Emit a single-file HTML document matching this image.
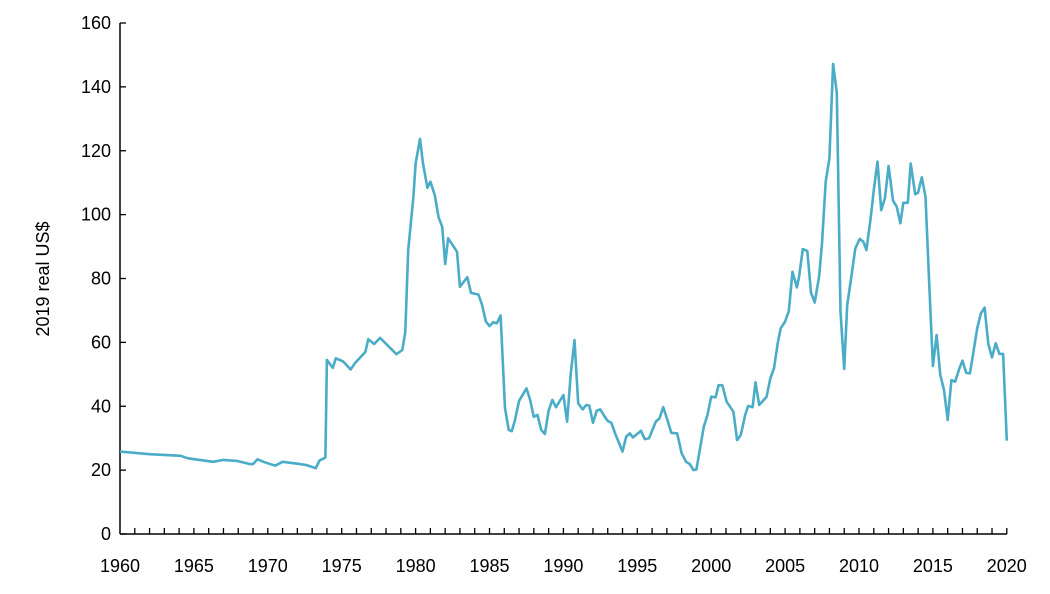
<!DOCTYPE html>
<html><head><meta charset="utf-8"><style>
html,body{margin:0;padding:0;background:#fff}
svg text{font-family:"Liberation Sans",Arial,sans-serif;fill:#000}
</style></head><body>
<svg id="chart" width="1050" height="589" viewBox="0 0 1050 589" xmlns="http://www.w3.org/2000/svg">
<g id="axes"></g>
<path id="line" fill="none" stroke="#4aacc6" stroke-width="2.6" stroke-linejoin="round"></path>
<text transform="translate(49,279) rotate(-90)" text-anchor="middle" font-size="18">2019 real US$</text>
</svg>
<script>
const years = [1960,1962,1964.1,1964.6,1966.3,1967,1967.9,1968.8,1969,1969.3,1969.7,1970.5,1971,1972.2,1972.6,1973.25,1973.5,1973.8,1973.9,1974.0,1974.4,1974.6,1975.1,1975.6,1975.9,1976.3,1976.6,1976.8,1977.2,1977.6,1978.7,1979.1,1979.3,1979.5,1979.85,1980.0,1980.3,1980.5,1980.8,1981.0,1981.3,1981.55,1981.8,1982.0,1982.2,1982.8,1983.0,1983.5,1983.75,1984.25,1984.5,1984.75,1985.0,1985.25,1985.5,1985.75,1986.05,1986.3,1986.5,1986.7,1987.0,1987.5,1987.75,1988.0,1988.25,1988.5,1988.75,1989.0,1989.25,1989.5,1990.0,1990.25,1990.5,1990.75,1991.0,1991.3,1991.55,1991.75,1992.0,1992.25,1992.5,1992.8,1993.0,1993.25,1993.5,1994.0,1994.25,1994.5,1994.7,1995.25,1995.5,1995.8,1996.25,1996.5,1996.75,1997.0,1997.3,1997.7,1998.0,1998.3,1998.55,1998.8,1999.0,1999.5,1999.75,2000.0,2000.3,2000.5,2000.75,2001.05,2001.5,2001.75,2002.0,2002.3,2002.5,2002.8,2003.0,2003.25,2003.75,2004.0,2004.25,2004.5,2004.7,2005.0,2005.25,2005.5,2005.8,2005.95,2006.2,2006.5,2006.75,2007.0,2007.3,2007.5,2007.75,2008.0,2008.25,2008.5,2008.75,2009.0,2009.2,2009.5,2009.75,2010.05,2010.3,2010.5,2010.8,2011.0,2011.25,2011.5,2011.75,2012.0,2012.3,2012.55,2012.8,2013.0,2013.3,2013.5,2013.8,2014.0,2014.25,2014.5,2014.75,2015.0,2015.25,2015.5,2015.75,2016.0,2016.25,2016.5,2016.8,2017.0,2017.25,2017.5,2017.75,2018.0,2018.25,2018.5,2018.75,2019.0,2019.25,2019.5,2019.75,2020.0];
const prices = [25.8,25,24.5,23.7,22.6,23.2,22.9,21.9,21.9,23.4,22.6,21.4,22.6,21.9,21.6,20.6,23,23.7,24,54.5,52,55,54,51.5,53.5,55.5,57,61,59.5,61.4,56.3,57.6,63.3,88.9,105.6,116,123.7,116,108.4,110.3,106.1,99.3,96.2,84.5,92.6,88.4,77.4,80.4,75.5,75,71.7,66.6,65.1,66.3,66,68.4,39.4,32.6,32.2,35.2,41.7,45.6,42,36.7,37.3,32.6,31.3,38.6,42,39.7,43.5,35.2,50.3,60.7,40.9,39,40.4,40.2,34.8,38.6,39,36.7,35.4,34.8,31.5,25.8,30.5,31.5,30.2,32.3,29.7,30,35.2,36.2,39.7,36.2,31.7,31.5,25.3,22.6,21.9,20,20.2,33.6,37.3,43,42.8,46.6,46.6,41.4,38.3,29.4,31,37.3,40.1,39.7,47.5,40.4,43,48.7,51.9,59.7,64.4,66.5,69.8,82.1,77.2,80.6,89.2,88.6,75.6,72.5,80.6,91,110.3,117.6,147.2,138.2,69.6,51.7,71.7,81.1,89.4,92.4,91.5,88.9,99.3,107.7,116.6,101.4,105.1,115.2,104.4,102.5,97.3,103.7,103.7,116,106.4,106.9,111.7,105.6,78.5,52.6,62.3,49.8,45.1,35.7,48.2,47.7,51.9,54.3,50.5,50.3,57.1,64.4,69.1,70.9,59.5,55.3,59.7,56.4,56.4,29.2];
const yTicks = [0,20,40,60,80,100,120,140,160];
const xLabels = [1960,1965,1970,1975,1980,1985,1990,1995,2000,2005,2010,2015,2020];

const X0=120, X1=1006.8, Y0=534, Y1=23;
function xs(y){return X0+(y-1960)/60*(X1-X0);}
function ys(v){return Y0-v/160*(Y0-Y1);}
const NS='http://www.w3.org/2000/svg';
const axes=document.getElementById('axes');
function mk(tag,attrs){const e=document.createElementNS(NS,tag);for(const k in attrs)e.setAttribute(k,attrs[k]);return e;}

const yAxis=mk('line',{x1:X0,y1:Y1,x2:X0,y2:Y0,stroke:'#000','stroke-width':1.5});


axes.appendChild(yAxis);
const xAxis=mk('line',{x1:X0,y1:Y0,x2:X1,y2:Y0,stroke:'#000','stroke-width':1.5});


axes.appendChild(xAxis);

yTicks.forEach(v=>{
  const t=mk('line',{x1:X0,y1:ys(v),x2:X0+6,y2:ys(v),stroke:'#000','stroke-width':1.3});
  
  
  axes.appendChild(t);
  const l=mk('text',{x:X0-9,y:ys(v)+6,'text-anchor':'end','font-size':18});
  
  
  l.textContent=v;axes.appendChild(l);
});
for(let yr=1961;yr<=2020;yr++){
  const t=mk('line',{x1:xs(yr),y1:Y0,x2:xs(yr),y2:Y0-6,stroke:'#000','stroke-width':1.3});
  
  
  axes.appendChild(t);
}
xLabels.forEach(yr=>{
  const l=mk('text',{x:xs(yr),y:572,'text-anchor':'middle','font-size':18});
  
  
  l.textContent=yr;axes.appendChild(l);
});
let d='';
years.forEach((yr,i)=>{d+=(i?'L':'M')+xs(yr).toFixed(1)+','+ys(prices[i]).toFixed(1);});
document.getElementById('line').setAttribute('d',d);
</script>
</body></html>
